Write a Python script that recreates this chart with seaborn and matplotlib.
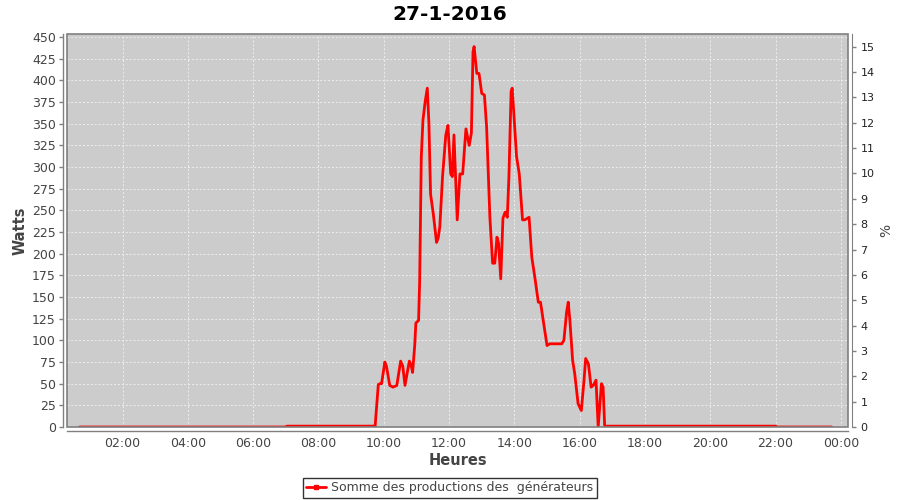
import matplotlib
matplotlib.use("Agg")
import matplotlib.pyplot as plt
import matplotlib.dates as mdates
from matplotlib.lines import Line2D
from matplotlib.patches import Rectangle
import pandas as pd
import seaborn as sns

title = "27-1-2016"
series_name = "Somme des productions des  générateurs"

times = [
    "00:41", "07:00", "07:02", "09:42", "09:44", "09:50", "09:53", "09:56",
    "10:02", "10:05", "10:11", "10:17", "10:24", "10:31", "10:35", "10:39",
    "10:47", "10:50", "10:53", "10:57", "10:59", "11:04", "11:06", "11:09",
    "11:12", "11:16", "11:20", "11:23", "11:26", "11:31", "11:37", "11:40",
    "11:43", "11:48", "11:54", "11:58", "12:03", "12:06", "12:09", "12:15",
    "12:20", "12:25", "12:31", "12:37", "12:41", "12:44", "12:46", "12:51",
    "12:55", "13:00", "13:05", "13:09", "13:15", "13:20", "13:24", "13:28",
    "13:31", "13:35", "13:39", "13:43", "13:47", "13:50", "13:54", "13:56",
    "13:59", "14:04", "14:09", "14:15", "14:19", "14:27", "14:32", "14:38",
    "14:44", "14:48", "14:53", "15:00", "15:05", "15:27", "15:31", "15:36",
    "15:39", "15:42", "15:47", "15:51", "15:57", "16:03", "16:08", "16:11",
    "16:16", "16:21", "16:25", "16:30", "16:34", "16:40", "16:43", "16:46",
    "16:50", "22:00", "22:02", "23:43",
]
watts = [
    0, 0, 1, 1, 0, 49, 50, 50,
    75, 70, 48, 46, 48, 76, 70, 48,
    76, 72, 63, 95, 120, 123, 169, 312,
    354, 375, 391, 350, 269, 246, 213, 218,
    231, 289, 337, 348, 292, 289, 337, 239,
    292, 292, 344, 325, 339, 433, 439, 408,
    408, 385, 383, 346, 242, 189, 189, 219,
    212, 171, 241, 248, 242, 289, 387, 391,
    362, 312, 292, 239, 239, 242, 196, 171,
    144, 144, 123, 94, 96, 96, 100, 133,
    144, 123, 77, 61, 27, 19, 54, 79,
    73, 46, 48, 54, 0, 50, 46, 0,
    1, 1, 0, 0,
]

x_ticks = ["02:00", "04:00", "06:00", "08:00", "10:00", "12:00",
           "14:00", "16:00", "18:00", "20:00", "22:00", "00:00"]
y_left_ticks = list(range(0, 451, 25))
y_right_ticks = list(range(0, 16))

day = "2016-01-27"
df = pd.DataFrame({
    "time": pd.to_datetime([f"{day} {t}" for t in times]),
    "watts": watts,
})

sns.set_style("white")
plt.rcParams["font.family"] = ["DejaVu Sans"]

fig = plt.figure(figsize=(9, 5), dpi=100)
ax = fig.add_axes([67 / 900, 73 / 500, 781 / 900, 393 / 500])
ax.set_facecolor("#CCCCCC")

sns.lineplot(data=df, x="time", y="watts", ax=ax, color="#FF0000",
             linewidth=2, legend=False, zorder=3)

x0 = pd.Timestamp(f"{day} 00:18")
x1 = pd.Timestamp(f"{day} 00:00") + pd.Timedelta(hours=24, minutes=13)
ax.set_xlim(x0, x1)
ax.set_ylim(0, 453.5)

ax.xaxis.set_major_locator(mdates.HourLocator(byhour=range(0, 24, 2)))
ax.xaxis.set_major_formatter(mdates.DateFormatter("%H:%M"))
ax.set_yticks(y_left_ticks)

ax.grid(True, color="#EEEEEE", linestyle=(0, (2, 2)), linewidth=0.7)
ax.set_axisbelow(True)

grey = "#808080"
txt = "#444444"
for side in ["top", "right"]:
    ax.spines[side].set_visible(False)
for side in ["left", "bottom"]:
    ax.spines[side].set_position(("outward", 3))
    ax.spines[side].set_color(grey)
    ax.spines[side].set_linewidth(1)
ax.tick_params(axis="both", colors=grey, labelcolor=txt, labelsize=9,
               length=3, width=1, direction="out")
ax.tick_params(axis="y", pad=2)
ax.tick_params(axis="x", pad=1.5)

ax.add_patch(Rectangle((0, 0), 1, 1, transform=ax.transAxes, fill=False,
                       edgecolor=grey, linewidth=1.2, zorder=5, clip_on=False))

ax.set_xlabel("Heures", fontsize=10.5, fontweight="bold", color=txt, labelpad=2)
ax.set_ylabel("Watts", fontsize=10.5, fontweight="bold", color=txt, labelpad=3)

ax2 = ax.twinx()
ax2.set_ylim(0, 15.5)
ax2.set_yticks(y_right_ticks)
for side in ["top", "left", "bottom"]:
    ax2.spines[side].set_visible(False)
ax2.spines["right"].set_position(("outward", 3))
ax2.spines["right"].set_color(grey)
ax2.tick_params(axis="y", colors=grey, labelcolor="#222222", labelsize=8,
                length=3, width=1, direction="out", pad=3)
ax2.set_ylabel("%", fontsize=10, color=txt, labelpad=3)
ax2.grid(False)

fig.suptitle(title, fontsize=14.5, fontweight="bold", x=0.5, y=0.99,
             color="#000000", va="top")

handle = Line2D([], [], color="#FF0000", linewidth=2, marker="s",
                markersize=2.5)
leg = fig.legend([handle], [series_name], loc="lower center",
                 bbox_to_anchor=(0.5, 0.004), frameon=True, fancybox=False,
                 fontsize=9, handlelength=1.6, handletextpad=0.4,
                 borderpad=0.3, borderaxespad=0, labelcolor=txt)
leg.get_frame().set_edgecolor("black")
leg.get_frame().set_linewidth(1)

fig.savefig("out.png", dpi=100)
